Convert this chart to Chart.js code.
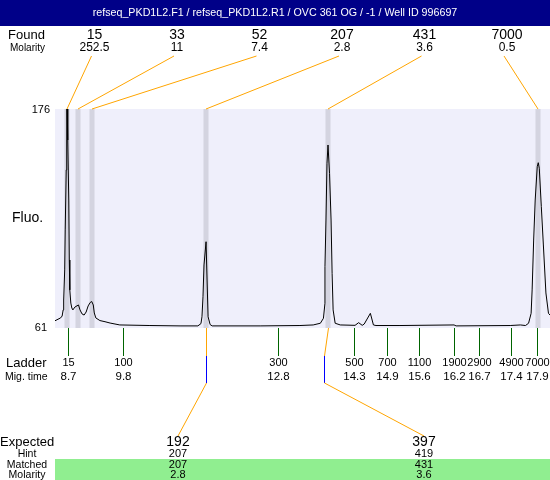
<!DOCTYPE html>
<html>
<head>
<meta charset="utf-8">
<script src="https://cdn.jsdelivr.net/npm/chart.js@4"></script>
<style>
  html, body { margin: 0; padding: 0; background: #fff; }
</style>
</head>
<body>
<canvas id="trace" width="550" height="480"></canvas>
<script>
// run header
const runTitle = 'refseq_PKD1L2.F1 / refseq_PKD1L2.R1 / OVC 361 OG / -1 / Well ID 996697';

// electropherogram trace (migration time in min, fluorescence)
const traceTime = [8.43, 8.54, 8.57, 8.59, 8.60, 8.62, 8.63, 8.65, 8.66, 8.67, 8.68, 8.70, 8.71, 8.72, 8.74, 8.76,
  8.78, 8.82, 8.89, 8.92, 8.96, 9.00, 9.04, 9.08, 9.12, 9.15, 9.18, 9.20, 9.23, 9.31, 9.41, 9.51, 9.70, 10.29,
  10.88, 11.23, 11.29, 11.31, 11.33, 11.35, 11.39, 11.40, 11.41, 11.43, 11.47, 11.51, 12.45, 13.23, 13.49, 13.63,
  13.69, 13.72, 13.72, 13.74, 13.76, 13.78, 13.79, 13.81, 13.84, 13.86, 13.88, 13.92, 14.02, 14.31, 14.38, 14.45,
  14.49, 14.61, 14.67, 14.72, 15.19, 16.25, 16.29, 17.35, 17.55, 17.65, 17.71, 17.76, 17.78, 17.81, 17.84, 17.88,
  17.90, 17.92, 17.96, 18.00, 18.05, 18.10, 18.13];
const traceFluo = [64.8, 66.3, 67.3, 70.5, 75.7, 91.5, 112.5, 144.0, 176, 176, 159.7, 128.2, 96.7, 81.0, 74.1, 71.5,
  70.5, 72.0, 73.1, 70.5, 68.4, 67.8, 69.4, 72.6, 74.4, 74.9, 73.1, 68.9, 66.3, 64.9, 64.3, 63.6, 62.6, 62.3,
  62.1, 62.1, 63.3, 66.9, 77.4, 94.1, 106.3, 106.3, 86.2, 66.9, 62.8, 62.1, 62.1, 62.3, 62.6, 63.5,
  66.1, 74.0, 93.2, 117.7, 147.5, 157.1, 157.1, 142.2, 117.7, 89.7, 70.5, 63.5, 62.6, 62.4, 63.8, 62.4,
  63.1, 68.7, 62.6, 62.3, 62.3, 62.6, 62.1, 62.3, 62.6, 62.3, 63.5, 68.7, 81.0, 107.2, 128.2, 145.7,
  147.8, 144.9, 124.7, 104.6, 79.4, 68.7, 67.8];

// found peaks
const foundSize = ['15', '33', '52', '207', '431', '7000'];
const foundMolarity = ['252.5', '11', '7.4', '2.8', '3.6', '0.5'];
const foundTime = [8.665, 8.887, 9.15, 11.39, 13.78, 17.895];

// ladder
const ladderSize = ['15', '100', '300', '500', '700', '1100', '1900', '2900', '4900', '7000'];
const ladderTime = [8.68, 9.77, 12.80, 14.29, 14.94, 15.57, 16.24, 16.74, 17.37, 17.88];

// expected fragments
const expectedSize = ['192', '397'];
const expectedHint = ['207', '419'];
const expectedMatched = ['207', '431'];
const expectedMolarity = ['2.8', '3.6'];
const expectedTime = [11.39, 13.70];
const expectedFoundIdx = [3, 4];

const fluoMin = 61, fluoMax = 176;
const timeMin = 8.43, timeMax = 18.13;

const FONT = '"Liberation Sans", Arial, sans-serif';

function txt(ctx, s, x, y, size, align, color) {
    ctx.font = size + 'px ' + FONT;
    ctx.textAlign = align || 'center';
    ctx.textBaseline = 'middle';
    ctx.fillStyle = color || '#000';
    ctx.fillText(s, x, y);
}

function seg(ctx, x1, y1, x2, y2, color) {
    ctx.beginPath();
    ctx.strokeStyle = color;
    ctx.lineWidth = 1;
    ctx.moveTo(x1, y1);
    ctx.lineTo(x2, y2);
    ctx.stroke();
}

// everything around the trace: header, bands, leader lines, ladder, table
const decorations = {
    id: 'decorations',
    beforeDatasetsDraw(chart) {
        const ctx = chart.ctx;
        const a = chart.chartArea;
        const xs = chart.scales.x;
        ctx.save();
        ctx.fillStyle = '#EFEFFB';
        ctx.fillRect(a.left, a.top, a.right - a.left, a.bottom - a.top);
        ctx.fillStyle = '#D4D4E0';
        foundTime.forEach(t => {
            const px = xs.getPixelForValue(t);
            ctx.fillRect(Math.round(px) - 2.5, a.top, 5, a.bottom - a.top);
        });
        ctx.restore();
    },
    afterDraw(chart) {
        const ctx = chart.ctx;
        const a = chart.chartArea;
        const xs = chart.scales.x;
        ctx.save();

        // header bar
        ctx.fillStyle = '#000088';
        ctx.fillRect(0, 0, 550, 26);
        txt(ctx, runTitle, 275, 13, 10.7, 'center', '#fff');

        // found row
        const colX = i => 12 + 82.5 * (i + 1);
        txt(ctx, 'Found', 8, 35, 13, 'left');
        txt(ctx, 'Molarity', 10, 48, 10, 'left');
        foundSize.forEach((s, i) => {
            txt(ctx, s, colX(i), 35, 14);
            txt(ctx, foundMolarity[i], colX(i), 48, 12);
            const px = Math.round(xs.getPixelForValue(foundTime[i]));
            seg(ctx, colX(i) - 3, 56, px, a.top, '#FFA500');
        });

        // y axis labels
        txt(ctx, String(fluoMax), 50, a.top + 1, 11, 'right');
        txt(ctx, String(fluoMin), 47, a.bottom, 11, 'right');
        txt(ctx, 'Fluo.', 12, 218, 14, 'left');

        // ladder
        txt(ctx, 'Ladder', 6, 363, 13, 'left');
        txt(ctx, 'Mig. time', 5, 377, 10.5, 'left');
        ladderSize.forEach((s, i) => {
            const px = Math.round(xs.getPixelForValue(ladderTime[i])) + 0.5;
            seg(ctx, px, a.bottom, px, 356, '#006400');
            txt(ctx, s, px, 363, 11);
            txt(ctx, ladderTime[i].toFixed(1), px, 377, 11.5);
        });

        // expected table
        const expLabelX = [178, 424];
        ctx.fillStyle = '#90EE90';
        ctx.fillRect(55, 459, 495, 21);
        txt(ctx, 'Expected', 0, 442, 13, 'left');
        txt(ctx, 'Hint', 27, 454, 10.5);
        txt(ctx, 'Matched', 27, 465, 10.5);
        txt(ctx, 'Molarity', 27, 475, 10.5);
        expectedSize.forEach((s, i) => {
            const bx = Math.round(xs.getPixelForValue(foundTime[expectedFoundIdx[i]])) + 0.5;
            const ex = Math.round(xs.getPixelForValue(expectedTime[i])) + 0.5;
            seg(ctx, bx, a.bottom, ex, 356, '#FFA500');
            seg(ctx, ex, 356, ex, 383, '#0000FF');
            seg(ctx, ex, 383, expLabelX[i], 436, '#FFA500');
            txt(ctx, s, expLabelX[i], 442, 14);
            txt(ctx, expectedHint[i], expLabelX[i], 454, 11);
            txt(ctx, expectedMatched[i], expLabelX[i], 465, 11);
            txt(ctx, expectedMolarity[i], expLabelX[i], 475, 11);
        });
        ctx.restore();
    }
};

new Chart(document.getElementById('trace'), {
    type: 'line',
    data: {
        datasets: [{
            data: traceTime.map((t, i) => ({ x: t, y: traceFluo[i] })),
            borderColor: '#000',
            borderWidth: 1,
            pointRadius: 0,
            tension: 0,
            fill: false
        }]
    },
    options: {
        responsive: false,
        animation: false,
        events: [],
        layout: { padding: { left: 55, right: 0, top: 109, bottom: 152 } },
        plugins: { legend: { display: false }, tooltip: { enabled: false } },
        scales: {
            x: { type: 'linear', min: timeMin, max: timeMax, display: false },
            y: { min: fluoMin, max: fluoMax, display: false }
        }
    },
    plugins: [decorations]
});
</script>
</body>
</html>
